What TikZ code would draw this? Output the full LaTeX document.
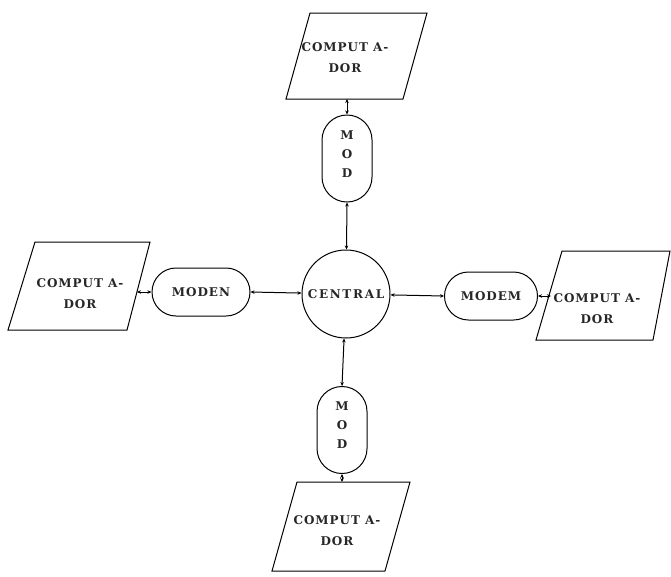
\documentclass[tikz,border=0pt]{standalone}
\usepackage{fontspec}
\setmainfont{DejaVu Serif}
\newfontfamily\labfont[LetterSpace=8]{DejaVu Serif}
\newfontfamily\widefont[LetterSpace=14]{DejaVu Serif}
\usetikzlibrary{arrows.meta}
\begin{document}
\begin{tikzpicture}[x=1pt,y=-1pt,
  lab/.style={font=\labfont\bfseries\fontsize{12}{21}\selectfont, text=black!85},
  pctext/.style={lab, align=center, inner sep=0pt},
  modemh/.style={lab, draw, line width=1pt, rounded corners=24pt, minimum height=48pt, inner sep=0pt},
  modemv/.style={lab, draw, line width=1pt, rounded corners=25pt, minimum width=50pt, minimum height=87pt, inner sep=0pt, align=center, font=\labfont\bfseries\fontsize{12}{19}\selectfont},
  centre/.style={draw, circle, line width=1pt, minimum size=88pt, inner sep=0pt, text=black!85, font=\widefont\bfseries\fontsize{12}{14}\selectfont},
  link/.style={draw, line width=1pt, <->, >={Stealth[length=4pt,width=3.5pt]}},
  pgram/.style={draw, line width=1pt, line join=miter}]
\useasboundingbox (0,0) rectangle (671,576);

% computers (parallelograms)
\draw[pgram] (310,13) -- (427,13) -- (403,99) -- (286,99) -- cycle;
\node[pctext] (pT) at (345,58) {COMPUT A-\\DOR};
\coordinate (pTb) at (347,99);

\draw[pgram] (35,242) -- (150,242) -- (127,330) -- (8,330) -- cycle;
\node[pctext] (pL) at (80,294) {COMPUT A-\\DOR};
\coordinate (pLr) at (137,292);

\draw[pgram] (562,251) -- (670,251) -- (653,340) -- (536,340) -- cycle;
\node[pctext] (pR) at (597,309) {COMPUT A-\\DOR};
\coordinate (pRl) at (551,296);

\draw[pgram] (297,482) -- (410,482) -- (385,571) -- (272,571) -- cycle;
\node[pctext] (pB) at (337,531) {COMPUT A-\\DOR};
\coordinate (pBt) at (342,482);

% modems
\node[modemv] (mT) at (347,158.5) {M\\O\\D\\[-10pt]\mbox{}};
\node[modemv] (mB) at (342,430) {M\\O\\D\\[-10pt]\mbox{}};
\node[modemh, minimum width=98pt] (mL) at (201,292) {MODEN};
\node[modemh, minimum width=93pt] (mR) at (491,296) {MODEM};

% central
\node[centre] (c) at (346,294) {CENTRAL};

% links
\draw[link] (pTb) -- (mT.north);
\draw[link] (mT.south) -- (c);
\draw[link] (pLr) -- (mL.west);
\draw[link] (mL.east) -- (c);
\draw[link] (c) -- (mR.west);
\draw[link] (mR.east) -- (pRl);
\draw[link] (c) -- (mB.north);
\draw[link] (mB.south) -- (pBt);
\end{tikzpicture}
\end{document}
